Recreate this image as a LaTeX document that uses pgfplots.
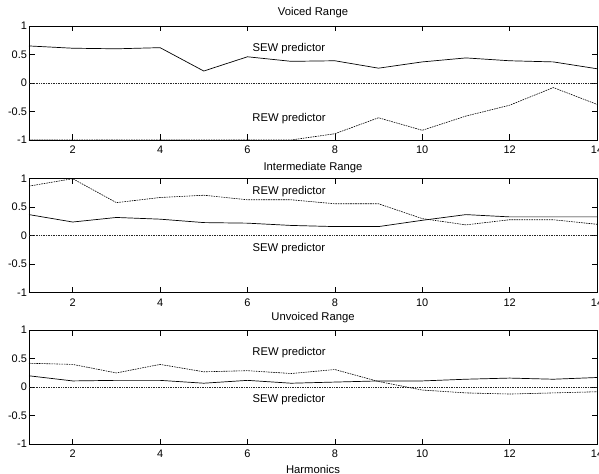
\documentclass[border=0pt]{standalone}
\usepackage{pgfplots}
\pgfplotsset{compat=1.18}
\usepackage{fontspec}
\setmainfont{Liberation Sans}

\begin{document}
\begin{tikzpicture}
\useasboundingbox (0bp,0bp) rectangle (599bp,474bp);

\tikzset{lbl/.style={font=\fontsize{11.3}{13}\selectfont}}
\pgfplotsset{
  panel/.style={
    scale only axis,
    width=568bp,
    height=114bp,
    clip=false,
    xmin=1, xmax=14, ymin=-1, ymax=1,
    xtick={2,4,6,8,10,12,14},
    ytick={-1,-0.5,0,0.5,1},
    yticklabels={-1,-0.5,0,0.5,1},
    tick align=inside,
    tick pos=both,
    major tick length=5.5bp,
    axis line style={line width=0.9pt},
    tick style={line width=0.6pt, black},
    /pgf/number format/assume math mode=true,
    tick label style={font=\fontsize{11}{12}\selectfont},
    yticklabel style={xshift=1.5bp},
    xticklabel style={yshift=-2.5bp},
    anchor=south west,
  },
  sew/.style={black, line width=0.7pt},
  rew/.style={black, line width=0.6pt, dash pattern=on 1.6pt off 0.9pt},
  zero/.style={black!85, line width=0.45pt, dash pattern=on 1pt off 0.7pt},
}

% Voiced Range
\begin{axis}[panel, at={(29bp,334bp)}]
\addplot[zero] coordinates {(1,0) (14,0)};
\addplot[sew] coordinates {
(1,0.65) (2,0.61) (3,0.60) (4,0.62) (5,0.21) (6,0.46) (7,0.38)
(8,0.39) (9,0.26) (10,0.37) (11,0.44) (12,0.39) (13,0.37) (14,0.25)};
\addplot[rew] coordinates {
(1,-1) (2,-1) (3,-1) (4,-1) (5,-1) (6,-1) (7,-1)
(8,-0.89) (9,-0.61) (10,-0.83) (11,-0.58) (12,-0.39) (13,-0.08) (14,-0.375)};
\node[lbl] at (axis cs:6.95,0.6) {SEW predictor};
\node[lbl] at (axis cs:6.95,-0.62) {REW predictor};
\node[lbl, yshift=13bp] at (rel axis cs:0.5,1) {Voiced Range};
\end{axis}

% Intermediate Range
\begin{axis}[panel, at={(29bp,181.3bp)}]
\addplot[zero] coordinates {(1,0) (14,0)};
\addplot[rew] coordinates {
(1,0.87) (2,1.0) (3,0.58) (4,0.67) (5,0.71) (6,0.63) (7,0.63)
(8,0.56) (9,0.56) (10,0.30) (11,0.19) (12,0.28) (13,0.28) (14,0.20)};
\addplot[sew] coordinates {
(1,0.37) (2,0.24) (3,0.32) (4,0.29) (5,0.23) (6,0.22) (7,0.18)
(8,0.16) (9,0.16) (10,0.27) (11,0.37) (12,0.33) (13,0.33) (14,0.33)};
\node[lbl] at (axis cs:6.95,0.78) {REW predictor};
\node[lbl] at (axis cs:6.95,-0.23) {SEW predictor};
\node[lbl, yshift=11bp] at (rel axis cs:0.5,1) {Intermediate Range};
\end{axis}

% Unvoiced Range
\begin{axis}[panel, at={(29bp,29.8bp)}]
\addplot[zero] coordinates {(1,0) (14,0)};
\addplot[rew] coordinates {
(1,0.42) (2,0.40) (3,0.25) (4,0.40) (5,0.27) (6,0.29) (7,0.24)
(8,0.31) (9,0.10) (10,-0.05) (11,-0.10) (12,-0.12) (13,-0.10) (14,-0.08)};
\addplot[sew] coordinates {
(1,0.20) (2,0.11) (3,0.12) (4,0.12) (5,0.07) (6,0.12) (7,0.07)
(8,0.09) (9,0.11) (10,0.11) (11,0.14) (12,0.16) (13,0.14) (14,0.17)};
\node[lbl] at (axis cs:6.95,0.61) {REW predictor};
\node[lbl] at (axis cs:6.95,-0.21) {SEW predictor};
\node[lbl, yshift=13bp] at (rel axis cs:0.5,1) {Unvoiced Range};
\node[lbl, yshift=-25.3bp] at (rel axis cs:0.5,0) {Harmonics};
\end{axis}

\end{tikzpicture}
\end{document}
